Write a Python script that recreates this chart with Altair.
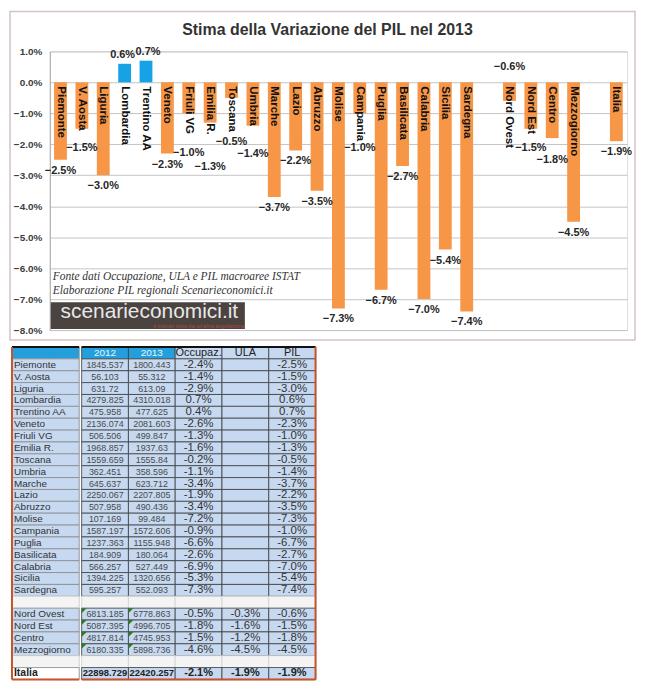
import json
import altair as alt
import pandas as pd

# ---------------- data ----------------
regions = ["Piemonte", "V. Aosta", "Liguria", "Lombardia", "Trentino AA", "Veneto",
           "Friuli VG", "Emilia R.", "Toscana", "Umbria", "Marche", "Lazio", "Abruzzo",
           "Molise", "Campania", "Puglia", "Basilicata", "Calabria", "Sicilia", "Sardegna"]
reg_2012 = [1845.537, 56.103, 631.72, 4279.825, 475.958, 2136.074, 506.506, 1968.857,
            1559.659, 362.451, 645.637, 2250.067, 507.958, 107.169, 1587.197, 1237.363,
            184.909, 566.257, 1394.225, 595.257]
reg_2013 = [1800.443, 55.312, 613.09, 4310.018, 477.625, 2081.603, 499.847, 1937.63,
            1555.84, 358.596, 623.712, 2207.805, 490.436, 99.484, 1572.606, 1155.948,
            180.064, 527.449, 1320.656, 552.093]
reg_occ = [-2.4, -1.4, -2.9, 0.7, 0.4, -2.6, -1.3, -1.6, -0.2, -1.1, -3.4, -1.9, -3.4,
           -7.2, -0.9, -6.6, -2.6, -6.9, -5.3, -7.3]
reg_pil = [-2.5, -1.5, -3.0, 0.6, 0.7, -2.3, -1.0, -1.3, -0.5, -1.4, -3.7, -2.2, -3.5,
           -7.3, -1.0, -6.7, -2.7, -7.0, -5.4, -7.4]

macro = ["Nord Ovest", "Nord Est", "Centro", "Mezzogiorno"]
macro_2012 = [6813.185, 5087.395, 4817.814, 6180.335]
macro_2013 = [6778.863, 4996.705, 4745.953, 5898.736]
macro_occ = [-0.5, -1.8, -1.5, -4.6]
macro_ula = [-0.3, -1.6, -1.2, -4.5]
macro_pil = [-0.6, -1.5, -1.8, -4.5]

italia_name = "Italia"
italia_2012 = 22898.729
italia_2013 = 22420.257
italia_occ = -2.1
italia_ula = -1.9
italia_pil = -1.9

col_names = ["2012", "2013", "Occupaz.", "ULA", "PIL"]
chart_title = "Stima della Variazione del PIL nel 2013"
source_1 = "Fonte dati Occupazione, ULA e PIL macroaree ISTAT"
source_2 = "Elaborazione PIL regionali Scenarieconomici.it"
brand = "scenarieconomici.it"
brand_sub = "il mondo visto da un'altra angolazione"

# ---------------- styles ----------------
ORANGE = "#F79646"
BLUE = "#17A2E6"
HEAD_BLUE = "#23A0DC"
NAME_FILL = "#C6D9F1"
BORDER_OR = "#C8532B"
FONT = "Liberation Sans"

W, H = 580, 280
PPU = H / 9.0

# ---------------- top chart ----------------
gap1, gap2 = " ", "  "
x_domain = regions + [gap1] + macro + [gap2] + [italia_name]
bars_df = pd.DataFrame({"cat": regions + macro + [italia_name],
                        "pil": reg_pil + macro_pil + [italia_pil]})
ann = pd.DataFrame({"k": [0]})

xenc = alt.X("cat:N", scale=alt.Scale(domain=x_domain, paddingInner=0.4, paddingOuter=0.2),
             axis=None)
yscale = alt.Scale(domain=[-8, 1], nice=False, zero=False)
yaxis = alt.Axis(values=list(range(-8, 2)),
                 labelExpr="format(datum.value, '.1f') + '%'",
                 grid=True, gridColor="#C4C4C4", gridWidth=1,
                 domain=True, domainColor="#A8A8A8", ticks=False, labelOverlap=False,
                 labelFont=FONT, labelFontWeight="bold", labelFontSize=10,
                 labelColor="#404040", labelPadding=8, title=None)


def yq(field):
    return alt.Y(field, scale=yscale, axis=yaxis, title=None)


def yzero():
    return alt.YDatum(0, scale=yscale, axis=yaxis, title=None)


base = alt.Chart(bars_df)

bars = base.mark_bar().encode(
    x=xenc,
    y=yq("pil:Q"),
    y2=alt.datum(0),
    color=alt.condition("datum.pil > 0", alt.value(BLUE), alt.value(ORANGE)),
)

catlab = base.mark_text(angle=90, align="left", baseline="middle", dx=4, font=FONT,
                        fontSize=11.5, fontWeight="bold", color="#111111").encode(
    x=xenc, y=yzero(), text="cat:N")

lab_expr = "format(datum.pil, '.1f') + '%'"
VAL_STYLE = dict(font=FONT, fontSize=11, fontWeight="bold", color="#262626")

neg = (
    base.transform_filter("datum.pil < 0 && datum.cat != 'Nord Ovest'")
    .transform_calculate(
        slot=f"indexof({json.dumps(x_domain)}, datum.cat)",
        bpx=f"-datum.pil * {PPU}",
        tpx="4 + length(datum.cat) * 6.4",
    )
    .transform_calculate(mn="max(datum.bpx, datum.tpx) + 1",
                         y0="max(datum.bpx, datum.tpx) + 5")
    .transform_window(py="lag(y0)", ps="lag(slot)", sort=[alt.SortField("slot")])
    .transform_calculate(
        y1="(datum.ps != null && datum.slot - datum.ps == 1 && abs(datum.y0 - datum.py) < 12)"
           " ? ((datum.y0 < datum.py && datum.py - 12 >= datum.mn) ? datum.py - 12 : datum.py + 12)"
           " : datum.y0")
    .transform_calculate(ly=f"-datum.y1 / {PPU}", lab=lab_expr)
    .mark_text(baseline="top", **VAL_STYLE)
    .encode(x=xenc, y=yq("ly:Q"), text="lab:N")
)

pos_base = (
    base.transform_filter("datum.pil > 0")
    .transform_calculate(lab=lab_expr, slot=f"indexof({json.dumps(x_domain)}, datum.cat)")
    .transform_window(rk="row_number()", sort=[alt.SortField("slot")])
)
pos_a = pos_base.transform_filter("datum.rk % 2 == 1").mark_text(
    baseline="bottom", dy=-4, dx=-2, **VAL_STYLE).encode(x=xenc, y=yq("pil:Q"), text="lab:N")
pos_b = pos_base.transform_filter("datum.rk % 2 == 0").mark_text(
    baseline="bottom", dy=-4, dx=2, **VAL_STYLE).encode(x=xenc, y=yq("pil:Q"), text="lab:N")

nw = base.transform_filter("datum.cat == 'Nord Ovest'").transform_calculate(lab=lab_expr).mark_text(
    baseline="bottom", dy=-10, **VAL_STYLE).encode(x=xenc, y=yzero(), text="lab:N")

A = alt.Chart(ann)
frame = A.mark_rect(filled=False, color="#D3C3C3", stroke="#D3C3C3", strokeWidth=1.5).encode(
    x=alt.value(-40), x2=alt.value(W + 8), y=alt.value(-40), y2=alt.value(H + 10))
title_txt = A.mark_text(text=chart_title, font=FONT, fontSize=16, fontWeight="bold",
                        color="#333333", align="center", baseline="middle").encode(
    x=alt.value(279), y=alt.value(-21))
src1 = A.mark_text(text=source_1, font="Liberation Serif", fontStyle="italic", fontSize=11.5,
                   color="#333333", align="left", baseline="middle").encode(
    x=alt.value(3), y=alt.value(227))
src2 = A.mark_text(text=source_2, font="Liberation Serif", fontStyle="italic", fontSize=11.5,
                   color="#333333", align="left", baseline="middle").encode(
    x=alt.value(3), y=alt.value(241))
wm_rect = A.mark_rect(color="#4A4340").encode(
    x=alt.value(1), x2=alt.value(196), y=alt.value(252), y2=alt.value(279))
wm_text = A.mark_text(text=brand, font=FONT, fontSize=21, color="#E8E8E8",
                      align="center", baseline="middle").encode(
    x=alt.value(100), y=alt.value(262))
wm_sub = A.mark_text(text=brand_sub, font=FONT, fontSize=5.5, color="#B04A3A",
                     align="center", baseline="middle").encode(
    x=alt.value(150), y=alt.value(276))

top = alt.layer(frame, bars, catlab, neg, pos_a, pos_b, nw, src1, src2, wm_rect, wm_text,
                wm_sub, title_txt).properties(width=W, height=H)

# ---------------- table ----------------
def pct(v):
    return f"{v:.1f}%"

name_rows = []
val_rows = []
row = 0
name_rows.append({"row": row, "name": "", "kind": "header"})
for c in col_names:
    val_rows.append({"row": row, "col": c, "txt": c, "kind": "header", "grp": "head"})
row += 1
for i, r in enumerate(regions):
    name_rows.append({"row": row, "name": r, "kind": "body"})
    for c, t in zip(col_names, [str(reg_2012[i]), str(reg_2013[i]), pct(reg_occ[i]), "",
                                pct(reg_pil[i])]):
        val_rows.append({"row": row, "col": c, "txt": t, "kind": "body", "grp": "region"})
    row += 1
name_rows.append({"row": row, "name": "", "kind": "blank"})
for c in col_names:
    val_rows.append({"row": row, "col": c, "txt": "", "kind": "blank", "grp": "blank"})
row += 1
for i, r in enumerate(macro):
    name_rows.append({"row": row, "name": r, "kind": "body"})
    for c, t in zip(col_names, [str(macro_2012[i]), str(macro_2013[i]), pct(macro_occ[i]),
                                pct(macro_ula[i]), pct(macro_pil[i])]):
        val_rows.append({"row": row, "col": c, "txt": t, "kind": "body", "grp": "macro"})
    row += 1
name_rows.append({"row": row, "name": "", "kind": "blank"})
for c in col_names:
    val_rows.append({"row": row, "col": c, "txt": "", "kind": "blank", "grp": "blank"})
row += 1
name_rows.append({"row": row, "name": italia_name, "kind": "total"})
for c, t in zip(col_names, [str(italia_2012), str(italia_2013), pct(italia_occ),
                            pct(italia_ula), pct(italia_pil)]):
    val_rows.append({"row": row, "col": c, "txt": t, "kind": "total", "grp": "total"})
row += 1
NROWS = row

names_df = pd.DataFrame(name_rows)
vals_df = pd.DataFrame(val_rows)

TH = 334
NX0 = -38        # name column starts left of the plot origin (aligned with chart frame)
NW = 29          # name column right edge
VW = 235
rscale = alt.Scale(domain=list(range(NROWS)), paddingInner=0, paddingOuter=0)
cscale = alt.Scale(domain=col_names, paddingInner=0, paddingOuter=0)
yrow = alt.Y("row:O", scale=rscale, axis=None)
xcol = alt.X("col:N", scale=cscale, axis=None)

NB = alt.Chart(names_df)
n_rect = NB.mark_rect(strokeWidth=0.8).encode(
    x=alt.value(NX0), x2=alt.value(NW + 0.5), y=yrow,
    color=alt.Color("kind:N", scale=alt.Scale(domain=["header", "body", "blank", "total"],
                                              range=[HEAD_BLUE, NAME_FILL, "#F4F4F4", "white"]),
                    legend=None),
    stroke=alt.condition("datum.kind == 'blank'", alt.value("#D0D0D0"), alt.value("#8A8A8A")),
)
n_txt = NB.transform_filter("datum.kind == 'body'").mark_text(
    align="left", baseline="middle", font=FONT, fontSize=10, color="#333333").encode(
    x=alt.value(NX0 + 2), y=yrow, text="name:N")
n_tot = NB.transform_filter("datum.kind == 'total'").mark_text(
    align="left", baseline="middle", font=FONT, fontSize=10.5, fontWeight="bold",
    color="#222222").encode(x=alt.value(NX0 + 2), y=yrow, text="name:N")
NA = alt.Chart(ann)
n_top = NA.mark_rule(color="#111111", strokeWidth=2).encode(
    x=alt.value(NX0), x2=alt.value(NW + 0.5), y=alt.value(0))
n_bot = NA.mark_rule(color=BORDER_OR, strokeWidth=2).encode(
    x=alt.value(NX0), x2=alt.value(NW + 0.5), y=alt.value(TH))
n_left = NA.mark_rule(color=BORDER_OR, strokeWidth=2).encode(
    x=alt.value(NX0), y=alt.value(0), y2=alt.value(TH))
names_chart = alt.layer(n_rect, n_txt, n_tot, n_top, n_bot, n_left).properties(width=NW, height=TH)

VB = alt.Chart(vals_df).transform_calculate(
    fk="datum.kind == 'blank' ? 'blank' : ((datum.kind == 'header' && (datum.col == '2012' || datum.col == '2013')) ? 'hblue' : 'white')",
    yr="datum.col == '2012' || datum.col == '2013'",
)
v_rect = VB.mark_rect(strokeWidth=0.8).encode(
    x=xcol, y=yrow,
    color=alt.Color("fk:N", scale=alt.Scale(domain=["blank", "hblue", "white"],
                                            range=["#F4F4F4", HEAD_BLUE, "white"]), legend=None),
    stroke=alt.condition("datum.kind == 'blank'", alt.value("#D0D0D0"), alt.value("#3C3C3C")),
)
v_flag = VB.transform_filter("datum.grp == 'macro' && datum.yr").mark_point(
    shape="M0,0L1.6,0L0,1.6Z", filled=True, size=40, color="#2F7A24", opacity=1,
    strokeWidth=0).encode(
    x=alt.X("col:N", scale=cscale, axis=None, bandPosition=0),
    y=alt.Y("row:O", scale=rscale, axis=None, bandPosition=0))
v_head_yr = VB.transform_filter("datum.kind == 'header' && datum.yr").mark_text(
    align="center", baseline="middle", font=FONT, fontSize=10, color="#EAF6FD").encode(
    x=xcol, y=yrow, text="txt:N")
v_head = VB.transform_filter("datum.kind == 'header' && !datum.yr").mark_text(
    align="center", baseline="middle", font=FONT, fontSize=11, color="#222222").encode(
    x=xcol, y=yrow, text="txt:N")
v_body = VB.transform_filter("datum.kind == 'body'").mark_text(
    align="center", baseline="middle", font=FONT).encode(
    x=xcol, y=yrow, text="txt:N",
    size=alt.condition("datum.yr", alt.value(9), alt.value(11.5)),
    color=alt.condition("datum.yr", alt.value("#4A4A4A"), alt.value("#333333")))
v_tot = VB.transform_filter("datum.kind == 'total'").mark_text(
    align="center", baseline="middle", font=FONT, fontWeight="bold").encode(
    x=xcol, y=yrow, text="txt:N",
    size=alt.condition("datum.yr", alt.value(9.5), alt.value(11)),
    color=alt.value("#222222"))
VA = alt.Chart(ann)
v_top = VA.mark_rule(color="#111111", strokeWidth=2).encode(
    x=alt.value(0), x2=alt.value(VW), y=alt.value(0))
v_bot = VA.mark_rule(color=BORDER_OR, strokeWidth=2).encode(
    x=alt.value(0), x2=alt.value(VW), y=alt.value(TH))
v_right = VA.mark_rule(color=BORDER_OR, strokeWidth=2).encode(
    x=alt.value(VW), y=alt.value(0), y2=alt.value(TH))
vals_chart = alt.layer(v_rect, v_flag, v_head_yr, v_head, v_body, v_tot, v_top, v_bot,
                       v_right).properties(width=VW, height=TH)

table = alt.hconcat(names_chart, vals_chart, spacing=-1)

chart = alt.vconcat(top, table, spacing=3).properties(padding=0).configure_view(
    stroke=None).configure(background="white")

chart.save("out.html", embed_options={"renderer": "svg", "actions": False})
